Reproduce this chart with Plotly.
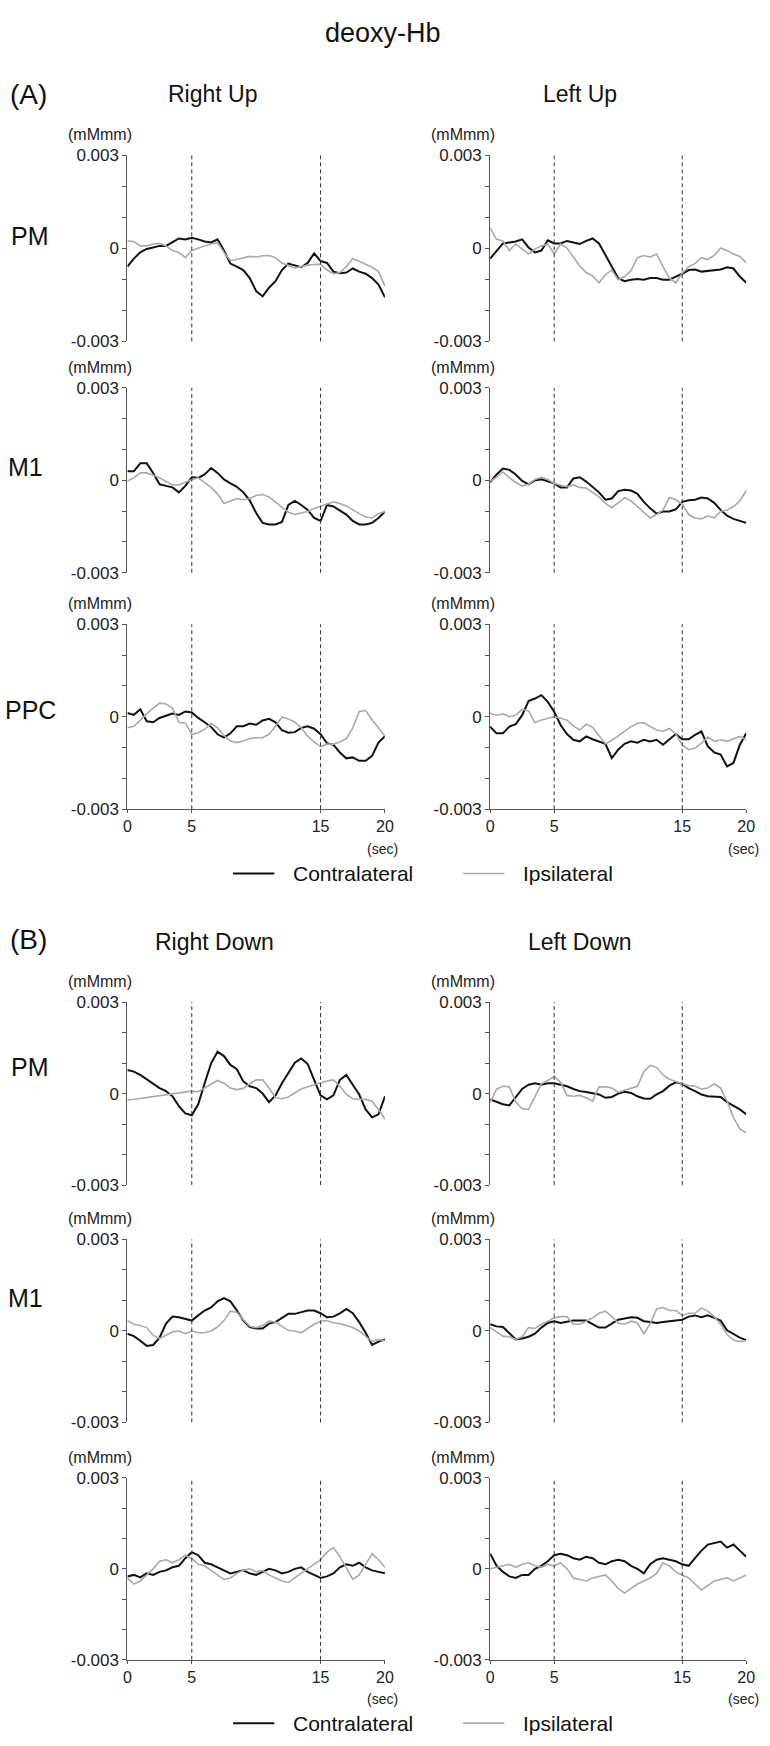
import numpy as np
import plotly.graph_objects as go

W, H = 770, 1746
SCALE = 1e-4  # data below are in units of 1e-4 mM·mm
TIME = np.linspace(0, 20, 41)  # 0.5 s sampling

# ---------------- (A) upward movement ----------------
RU_PM_CONTRA = [-5.9, -3.3, -1.3, -0.2, 0.3, 0.8, 0.8, 1.9, 3.2, 2.9, 3.4, 2.9, 2.2, 1.9, 2.9, -0.7,
                -4.9, -5.9, -7.0, -9.6, -13.8, -15.5, -12.7, -10.6, -7.0, -4.9, -5.4, -6.1, -4.7, -1.6,
                -4.1, -4.7, -7.5, -8.0, -7.8, -6.5, -7.5, -8.2, -9.6, -11.7, -15.8]
RU_PM_IPSI = [2.4, 2.2, 0.8, 0.8, 1.4, 1.6, 0.8, -0.7, -1.3, -3.0, -0.7, 0.1, 0.8, 1.4, 1.9, -1.3,
              -3.9, -3.6, -3.0, -2.6, -2.8, -2.4, -2.3, -3.0, -4.7, -5.6, -6.3, -5.9, -5.4, -5.2,
              -5.1, -7.0, -8.2, -7.8, -5.9, -3.3, -4.1, -5.1, -6.1, -7.5, -12.2]
LU_PM_CONTRA = [-3.3, -0.7, 1.6, 1.9, 2.2, 2.9, 0.3, -1.3, -0.7, 2.6, 1.6, 1.6, 2.4, 1.9, 1.4, 2.4,
                3.2, 1.6, -2.3, -5.9, -9.6, -10.6, -10.1, -9.9, -10.1, -9.6, -9.6, -10.1, -10.1, -9.1,
                -8.2, -7.0, -6.8, -7.5, -7.2, -7.0, -6.8, -6.1, -6.5, -9.1, -11.1]
LU_PM_IPSI = [6.6, 2.9, 2.4, -0.7, 1.4, -0.2, -1.8, -0.2, 0.8, 1.4, -1.8, 1.4, 0.1, -2.8, -5.7, -7.8,
              -8.9, -11.1, -8.5, -7.0, -10.1, -9.1, -7.2, -3.0, -2.3, -2.8, -1.8, -5.9, -9.6, -11.1,
              -8.0, -5.9, -4.9, -3.0, -3.6, -2.3, 0.1, -0.7, -1.8, -2.6, -4.7]

RU_M1_CONTRA = [2.9, 2.9, 5.5, 5.5, 2.4, -1.3, -1.8, -2.3, -3.9, -1.8, 1.0, 0.8, 1.9, 4.0, 2.4, 0.3,
                -1.0, -2.1, -3.9, -6.5, -10.6, -13.8, -14.3, -14.3, -13.5, -8.0, -6.7, -8.0, -9.6, -12.2,
                -13.2, -8.0, -8.5, -9.8, -11.1, -13.2, -14.3, -14.3, -13.8, -12.2, -10.1]
RU_M1_IPSI = [-0.2, 0.8, 2.4, 2.4, 1.7, 0.8, -0.4, -1.5, -1.5, -0.7, 0.3, 0.8, -0.7, -2.3, -4.4, -7.5,
              -6.7, -5.9, -6.3, -5.9, -4.9, -4.6, -5.4, -7.0, -8.8, -10.4, -11.1, -10.6, -10.1, -9.1,
              -8.5, -7.7, -7.0, -7.5, -8.3, -9.6, -10.8, -11.9, -12.2, -10.8, -10.1]
LU_M1_CONTRA = [-0.7, 1.9, 3.8, 3.4, 1.9, -0.2, -1.3, 0.0, 0.3, -0.4, -1.0, -2.3, -2.3, 0.6, 1.0, -0.4,
                -2.1, -3.9, -6.3, -5.9, -3.5, -3.1, -3.3, -4.4, -7.0, -9.1, -10.8, -10.1, -10.1, -9.4,
                -7.0, -6.5, -6.3, -5.6, -5.9, -7.3, -9.6, -11.5, -12.5, -13.2, -13.8]
LU_M1_IPSI = [-0.4, 1.0, 2.7, 0.8, -0.7, -1.8, -1.3, 0.3, 1.0, 0.3, -1.0, -1.5, -2.1, -1.5, -2.3, -2.5,
              -3.9, -5.4, -7.5, -8.8, -7.3, -5.6, -6.7, -8.5, -10.4, -12.2, -11.1, -9.6, -5.6, -6.3,
              -7.7, -11.1, -12.2, -12.5, -11.5, -12.2, -10.1, -9.6, -8.5, -6.7, -3.3]

RU_PPC_CONTRA = [1.2, 0.6, 2.4, -1.5, -1.8, -0.4, 0.3, 1.0, 0.6, 1.7, 1.4, -0.4, -1.8, -3.3, -5.7, -6.8,
                 -5.4, -3.1, -3.1, -2.2, -2.6, -1.2, -0.7, -1.8, -4.4, -5.2, -5.0, -3.6, -3.1, -3.9,
                 -5.7, -8.6, -9.1, -11.6, -13.5, -13.2, -14.3, -14.3, -12.7, -8.4, -6.3]
RU_PPC_IPSI = [-3.6, -3.1, -1.2, 1.0, 2.8, 4.4, 4.1, 2.8, -1.8, -2.0, -5.7, -5.2, -4.1, -2.2, -3.6, -6.1,
               -7.9, -8.4, -7.9, -7.1, -6.8, -6.8, -5.7, -3.1, -0.1, -0.7, -1.8, -3.6, -6.3, -8.2,
               -9.7, -8.9, -8.9, -8.2, -7.1, -3.6, 1.7, 2.0, -1.0, -3.6, -6.3]
LU_PPC_CONTRA = [-3.2, -5.4, -5.4, -3.2, -2.4, 0.5, 5.1, 5.9, 7.0, 4.8, 1.6, -2.7, -5.6, -7.5, -8.0, -6.4,
                 -7.3, -8.0, -8.8, -13.4, -10.7, -8.8, -8.0, -8.4, -7.5, -8.0, -7.5, -9.1, -7.3, -5.6,
                 -7.3, -7.3, -5.9, -4.8, -9.6, -11.6, -12.3, -16.1, -15.0, -9.1, -5.4]
LU_PPC_IPSI = [1.1, 0.5, 0.9, 0.0, 0.5, 2.4, 1.9, -1.9, -1.1, -0.5, 0.0, -0.5, -1.1, -3.0, -4.3, -2.4,
               -3.4, -6.2, -8.8, -7.7, -6.2, -4.8, -3.2, -2.1, -1.9, -3.2, -4.3, -4.8, -3.8, -5.6,
               -9.1, -10.7, -10.2, -8.6, -6.6, -8.0, -7.5, -8.0, -7.3, -6.4, -7.5]

# ---------------- (B) downward movement ----------------
RD_PM_CONTRA = [7.7, 7.2, 6.1, 4.7, 3.4, 1.8, 0.8, -0.9, -4.1, -6.5, -7.1, -3.5, 3.4, 9.9, 13.7, 12.3,
                9.4, 8.0, 4.0, 2.4, 1.8, 0.0, -2.8, -0.6, 3.4, 6.7, 10.1, 11.5, 9.7, 4.5,
                -0.6, -1.9, -0.6, 4.5, 6.1, 2.9, -0.3, -5.2, -7.8, -6.8, -0.9]
RD_PM_IPSI = [-2.2, -1.9, -1.5, -1.3, -0.9, -0.6, -0.3, 0.0, 0.4, 0.6, 0.8, 0.6, 1.8, 2.9, 4.3, 3.4,
              1.8, 1.3, 1.7, 3.2, 4.5, 4.5, 1.8, -1.4, -1.7, -1.1, 0.2, 1.5, 2.2, 2.9,
              3.4, 4.1, 4.5, 2.4, -0.3, -1.7, -1.9, -1.9, -2.5, -5.2, -8.4]
LD_PM_CONTRA = [-1.9, -2.8, -3.5, -3.9, -1.1, 1.5, 2.9, 3.4, 2.9, 3.4, 3.4, 2.9, 2.4, 1.5, 0.8, 0.5,
                0.2, -0.3, -1.4, -1.1, 0.0, 0.6, 0.2, -0.9, -1.6, -1.7, -0.3, 0.8, 2.6, 3.7,
                3.2, 1.8, 0.8, -0.3, -0.9, -0.9, -1.1, -2.8, -3.9, -5.2, -6.8]
LD_PM_IPSI = [-3.0, 1.5, 2.4, 2.2, -2.8, -4.9, -5.2, -0.9, 3.2, 4.3, 5.6, 3.7, -0.6, -0.9, -0.6, -1.4,
              -2.5, 2.2, 2.2, 1.8, 0.4, 1.1, 1.8, 2.4, 7.2, 9.2, 8.6, 6.1, 4.7, 3.9,
              3.2, 2.6, 2.4, 1.5, 1.8, 3.2, 1.8, -2.5, -7.8, -11.6, -12.9]

RD_M1_CONTRA = [-0.9, -1.7, -3.2, -4.9, -4.6, -2.2, 2.4, 4.7, 4.5, 4.0, 3.4, 5.1, 6.7, 7.7, 9.7, 10.8,
                9.7, 6.7, 3.4, 1.3, 0.8, 0.8, 2.4, 2.9, 4.3, 5.6, 5.6, 6.1, 6.7, 6.7,
                5.8, 4.5, 4.7, 5.8, 7.2, 5.8, 2.9, -0.6, -4.6, -3.5, -2.8]
RD_M1_IPSI = [3.4, 2.2, 1.8, 1.1, -1.4, -2.5, -1.4, -0.3, 0.0, -0.9, 0.0, -0.6, -0.6, 0.0, 1.3, 3.4,
              6.5, 6.1, 3.7, 1.5, 1.1, 1.8, 3.2, 2.9, 1.5, 0.2, 0.0, -0.6, 0.8, 2.2,
              3.2, 3.4, 2.6, 2.4, 1.8, 1.1, 0.0, -1.7, -3.5, -2.8, -3.2]
LD_M1_CONTRA = [2.2, 1.5, 1.3, -0.6, -2.8, -2.5, -1.9, -0.9, 1.1, 2.6, 3.2, 2.6, 2.9, 3.4, 3.4, 3.4,
                2.2, 1.1, 1.1, 2.4, 3.7, 4.1, 4.5, 4.3, 3.2, 2.9, 2.6, 2.9, 3.2, 3.4,
                3.7, 4.7, 5.1, 4.5, 5.1, 4.3, 3.4, 0.2, -0.9, -2.2, -3.0]
LD_M1_IPSI = [1.1, -0.3, -1.7, -1.9, -2.8, -1.9, 1.1, 0.8, 2.2, 3.2, 4.3, 4.7, 4.7, 2.2, 2.2, 3.2,
              4.3, 5.8, 6.5, 4.7, 2.6, 2.2, 3.2, 2.6, -0.9, 2.4, 7.2, 7.7, 6.7, 6.7,
              5.1, 5.8, 5.8, 7.5, 6.5, 4.7, 2.2, -1.1, -3.0, -3.5, -3.2]

RD_R3_CONTRA = [-2.5, -2.0, -2.8, -1.5, -2.0, -1.0, -0.5, 0.5, 1.0, 3.5, 5.5, 4.5, 2.0, 1.5, 0.5, -0.5,
                -1.5, -1.0, -0.5, -1.5, -2.0, -1.0, 0.0, -0.5, -1.5, -1.0, 0.0, 0.5, -1.0, -2.0,
                -3.0, -2.5, -1.5, 0.5, 1.5, 1.0, 2.0, 0.5, -0.5, -1.0, -1.5]
RD_R3_IPSI = [-3.0, -5.0, -4.0, -2.0, 0.0, 2.5, 3.0, 2.0, 3.0, 4.5, 3.5, 1.5, 1.0, -0.5, -2.0, -3.5,
              -3.0, -1.5, -0.5, 0.0, -1.0, -0.5, -2.0, -3.0, -4.0, -4.5, -3.0, -1.5, 0.0, 1.5,
              3.0, 5.5, 7.0, 4.0, 0.0, -3.5, -2.0, 1.5, 5.0, 3.0, 0.5]
LD_R3_CONTRA = [5.0, 1.0, -1.0, -2.5, -3.0, -2.0, -2.0, 0.0, 1.0, 2.5, 4.5, 5.0, 4.5, 3.5, 3.0, 4.0,
                3.5, 2.0, 1.5, 2.5, 3.0, 2.5, 1.0, 0.0, -1.5, 1.5, 3.0, 3.5, 3.0, 2.5,
                1.5, 1.0, 3.5, 6.0, 8.0, 8.5, 9.0, 7.0, 8.0, 6.0, 4.0]
LD_R3_IPSI = [0.0, 0.5, 1.0, 1.5, 0.5, 1.5, 2.0, 1.0, 0.5, 1.5, 1.0, 2.0, 0.0, -3.0, -3.5, -4.0,
              -3.0, -2.5, -2.0, -4.0, -6.5, -8.0, -6.5, -5.0, -4.0, -3.0, -1.5, 2.0, 1.0, -1.0,
              -2.0, -3.0, -5.0, -7.0, -5.5, -4.0, -3.5, -3.0, -4.0, -3.0, -2.0]

# panel order: (row, col, contralateral, ipsilateral)
PANELS = [
    (0, 0, RU_PM_CONTRA, RU_PM_IPSI), (0, 1, LU_PM_CONTRA, LU_PM_IPSI),
    (1, 0, RU_M1_CONTRA, RU_M1_IPSI), (1, 1, LU_M1_CONTRA, LU_M1_IPSI),
    (2, 0, RU_PPC_CONTRA, RU_PPC_IPSI), (2, 1, LU_PPC_CONTRA, LU_PPC_IPSI),
    (3, 0, RD_PM_CONTRA, RD_PM_IPSI), (3, 1, LD_PM_CONTRA, LD_PM_IPSI),
    (4, 0, RD_M1_CONTRA, RD_M1_IPSI), (4, 1, LD_M1_CONTRA, LD_M1_IPSI),
    (5, 0, RD_R3_CONTRA, RD_R3_IPSI), (5, 1, LD_R3_CONTRA, LD_R3_IPSI),
]

Y_TICKVALS = [-0.003, -0.002, -0.001, 0, 0.001, 0.002, 0.003]
Y_TICKTEXT = ["-0.003", "", "", "0", "", "", "0.003"]
X_TICKVALS = [0, 5, 15, 20]
X_TICKTEXT = ["0", "5", "15", "20"]
STIM_LINES = [5, 15]

# layout geometry (pixels)
ROWS_PX = [(148, 336), (383, 570), (622, 809), (1004, 1189), (1244, 1429), (1485, 1669)]
COLS_PX = [(125.5, 387.5), (494.5, 755)]
BOTTOM_ROWS = {2, 5}

FONT = "Arial, 'Liberation Sans', sans-serif"
BLACK = "#111111"
GRAY = "#a9a9a9"
AXIS = "#555555"


def px(x):
    return x / W


def py(y):
    return 1 - y / H


fig = go.Figure()
layout = {}
shapes = []
annotations = []

for i, (row, col, contra, ipsi) in enumerate(PANELS):
    n = i + 1
    xa = "x" if n == 1 else f"x{n}"
    ya = "y" if n == 1 else f"y{n}"
    xkey = "xaxis" if n == 1 else f"xaxis{n}"
    ykey = "yaxis" if n == 1 else f"yaxis{n}"

    fig.add_trace(go.Scatter(x=TIME, y=np.array(contra) * SCALE, mode="lines",
                             line=dict(color=BLACK, width=2), name="Contralateral",
                             xaxis=xa, yaxis=ya, showlegend=False))
    fig.add_trace(go.Scatter(x=TIME, y=np.array(ipsi) * SCALE, mode="lines",
                             line=dict(color=GRAY, width=1.6), name="Ipsilateral",
                             xaxis=xa, yaxis=ya, showlegend=False))

    top, bot = ROWS_PX[row]
    left, right = COLS_PX[col]
    xdict = dict(domain=[px(left), px(right)], range=[0, 20], anchor=ya,
                 showgrid=False, zeroline=False)
    if row in BOTTOM_ROWS:
        xdict.update(showline=True, linecolor=AXIS, linewidth=1, ticks="outside",
                     ticklen=3, tickcolor=AXIS, tickvals=X_TICKVALS, ticktext=X_TICKTEXT,
                     tickfont=dict(family=FONT, size=16, color="#222"))
    else:
        xdict.update(visible=False)
    layout[xkey] = xdict
    layout[ykey] = dict(domain=[py(bot), py(top)], range=[-0.003, 0.003], anchor=xa,
                        showgrid=False, zeroline=False, showline=True, linecolor=AXIS,
                        linewidth=1, ticks="outside", ticklen=4, tickcolor=AXIS,
                        tickvals=Y_TICKVALS, ticktext=Y_TICKTEXT,
                        tickfont=dict(family=FONT, size=17, color="#222"))

    for xv in STIM_LINES:
        shapes.append(dict(type="line", xref=xa, yref=f"{ya} domain", x0=xv, x1=xv, y0=0, y1=1,
                           line=dict(color="#333", width=1, dash="4px,3px")))

    # unit label
    annotations.append(dict(text="(mMmm)", x=px(left - 28), y=py(top - 21), xref="paper",
                            yref="paper", xanchor="center", yanchor="middle", showarrow=False,
                            font=dict(family=FONT, size=16, color="#222")))
    if row in BOTTOM_ROWS:
        annotations.append(dict(text="(sec)", x=px(right - 3), y=py(bot + 40), xref="paper",
                                yref="paper", xanchor="center", yanchor="middle",
                                showarrow=False, font=dict(family=FONT, size=14, color="#222")))


def txt(text, x, y, size, anchor="center"):
    annotations.append(dict(text=text, x=px(x), y=py(y), xref="paper", yref="paper",
                            xanchor=anchor, yanchor="middle", showarrow=False,
                            font=dict(family=FONT, size=size, color="#111")))


txt("deoxy-Hb", 385, 24, 27)
txt("(A)", 4, 86, 28, "left")
txt("(B)", 4, 941, 28, "left")
txt("Right Up", 212, 86, 23)
txt("Left Up", 586, 86, 23)
txt("Right Down", 214, 943, 23)
txt("Left Down", 586, 943, 23)

ROW_LABELS = [("PM", 26, 230), ("M1", 22, 463), ("PPC", 27, 709),
              ("PM", 26, 1070), ("M1", 22, 1303)]
for lab, lx, ly in ROW_LABELS:
    txt(lab, lx, ly, 25)

# legends (one under each group)
for ly in (874, 1733):
    shapes.append(dict(type="line", xref="paper", yref="paper", x0=px(233), x1=px(275),
                       y0=py(ly), y1=py(ly), line=dict(color=BLACK, width=2)))
    shapes.append(dict(type="line", xref="paper", yref="paper", x0=px(467), x1=px(509),
                       y0=py(ly), y1=py(ly), line=dict(color=GRAY, width=1.6)))
    txt("Contralateral", 292, ly, 21, "left")
    txt("Ipsilateral", 526, ly, 21, "left")

fig.update_layout(width=W, height=H, margin=dict(l=0, r=0, t=0, b=0),
                  paper_bgcolor="white", plot_bgcolor="white",
                  shapes=shapes, annotations=annotations, showlegend=False,
                  font=dict(family=FONT), **layout)

fig.write_html("out.html", config={"displayModeBar": False},
               post_script="document.body.style.margin='0';document.body.style.padding='0';"
                           "document.body.style.overflow='hidden';")
